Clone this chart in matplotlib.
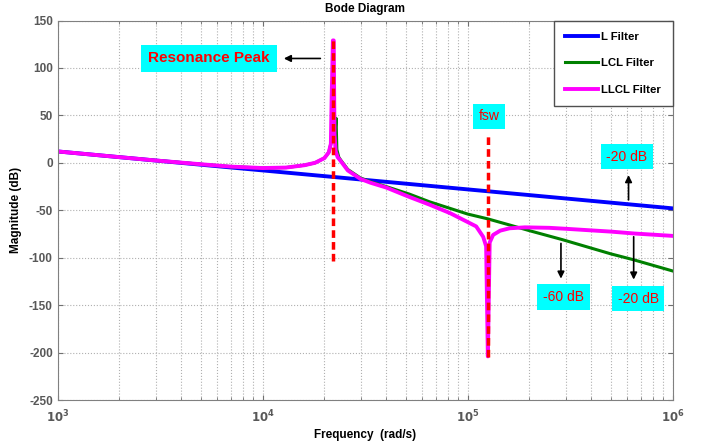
import matplotlib
matplotlib.use("Agg")
import matplotlib.pyplot as plt
from matplotlib.ticker import LogLocator, NullFormatter, FixedLocator

plt.rcParams['font.family'] = ['Liberation Sans', 'DejaVu Sans']
plt.rcParams['axes.unicode_minus'] = False

# frequency (rad/s) and magnitude (dB)
l_w = [1e3, 1e4, 1e5, 1e6]
l_mag = [12, -8, -28, -48]

lcl_w = [1e3, 2e3, 3e3, 5e3, 7e3, 1e4, 1.3e4, 1.6e4, 1.8e4, 2e4, 2.1e4, 2.15e4,
         2.2e4, 2.26e4, 2.28e4, 2.3e4, 2.35e4, 2.4e4, 2.6e4, 3e4, 3.36e4, 4e4,
         5.2e4, 6.5e4, 8.2e4, 1e5, 1.25e5, 1.6e5, 2e5, 2.9e5, 5e5, 6.4e5, 1e6]
lcl_mag = [12, 6, 2.5, -1.5, -4, -5.5, -5, -2.5, 0, 5, 11, 20,
           30, 35, 47, 14, 6, 3, -7, -16, -20, -25,
           -33, -41, -48, -54, -59, -65.5, -71.5, -81, -96, -102, -114]

llcl_w = [1e3, 2e3, 3e3, 5e3, 7e3, 1e4, 1.3e4, 1.6e4, 1.8e4, 2e4, 2.1e4, 2.15e4,
          2.17e4, 2.2e4, 2.22e4, 2.24e4, 2.27e4, 2.32e4, 2.4e4, 2.6e4, 3e4, 3.36e4,
          4e4, 5.2e4, 6.5e4, 8.2e4, 9.5e4, 1.1e5, 1.19e5, 1.23e5, 1.254e5, 1.28e5,
          1.33e5, 1.44e5, 1.6e5, 1.9e5, 2.5e5, 3e5, 5e5, 6.5e5, 1e6]
llcl_mag = [12, 6, 2.5, -1.5, -4, -5.5, -5, -2.5, 0, 5, 11, 20,
            70, 129, 129, 30, 12, 6, 2, -8, -17, -21,
            -26, -36, -44, -53, -60, -67, -78, -88, -204, -84,
            -76, -71.5, -69, -68, -68.5, -69.5, -72.5, -74.5, -77]

res_w = 2.213e4
res_span = [-103, 133]
fsw_w = 1.254e5
fsw_span = [-205, 29]

fig = plt.figure(figsize=(7.07, 4.48), dpi=100)
ax = fig.add_axes([0.0816, 0.1071, 0.8699, 0.8471])

ax.semilogx(l_w, l_mag, color='#0000ff', lw=2.8, label='L Filter')
ax.semilogx(lcl_w, lcl_mag, color='#008000', lw=2.2, label='LCL Filter')
ax.semilogx(llcl_w, llcl_mag, color='#ff00ff', lw=2.8, label='LLCL Filter')
ax.plot([res_w, res_w], res_span, color='#ff0000', lw=2.5, ls=(0, (2.2, 1.2)))
ax.plot([fsw_w, fsw_w], fsw_span, color='#ff0000', lw=2.5, ls=(0, (2.2, 1.2)))

ax.set_xlim(1e3, 1e6)
ax.set_ylim(-250, 150)
ax.yaxis.set_major_locator(FixedLocator(range(-250, 151, 50)))
ax.xaxis.set_minor_locator(LogLocator(base=10, subs=range(2, 10)))
ax.xaxis.set_minor_formatter(NullFormatter())
ax.set_xticks([1e3, 1e4, 1e5, 1e6])
ax.set_xticklabels([r'$\mathbf{10^{3}}$', r'$\mathbf{10^{4}}$', r'$\mathbf{10^{5}}$', r'$\mathbf{10^{6}}$'])
ax.grid(True, which='both', color='#b0b0b0', ls=':', lw=0.8)
ax.tick_params(which='both', direction='in', top=True, right=True, colors='#707070',
               labelcolor='#585858', labelsize=8.5)
ax.tick_params(axis='x', pad=6)
for lab in ax.get_yticklabels():
    lab.set_fontweight('bold')
for s in ax.spines.values():
    s.set_color('#808080')

ax.set_title('Bode Diagram', fontsize=8.5, fontweight='bold', pad=6)
ax.set_xlabel('Frequency  (rad/s)', fontsize=8.5, fontweight='bold', labelpad=3)
ax.set_ylabel('Magnitude (dB)', fontsize=8.5, fontweight='bold')
ax.yaxis.set_label_coords(-0.058, 0.5)

leg = ax.legend(loc='upper right', fancybox=False, borderaxespad=0, handlelength=2.9,
                labelspacing=1.45, borderpad=1.0, handletextpad=0.3,
                prop={'weight': 'bold', 'size': 8.2}, edgecolor='#505050', framealpha=1)
leg.get_frame().set_linewidth(1.0)

box = dict(boxstyle='square,pad=0.4', fc='#00ffff', ec='none')
arrow = dict(arrowstyle='-|>', color='black', lw=1.2, mutation_scale=10)

ax.text(5.47e3, 110, 'Resonance Peak', color='#ff0000', fontsize=11, fontweight='bold',
        ha='center', va='center', bbox=dict(boxstyle='square,pad=0.45', fc='#00ffff', ec='none'))
ax.annotate('', xy=(1.229e4, 110), xytext=(1.972e4, 110), arrowprops=arrow)

ax.text(1.274e5, 49, 'fsw', color='#ff0000', fontsize=10, ha='center', va='center', bbox=box)

ax.text(5.965e5, 6.4, '-20 dB', color='#ff0000', fontsize=10, ha='center', va='center', bbox=box)
ax.annotate('', xy=(6.09e5, -10), xytext=(6.09e5, -42), arrowprops=arrow)

ax.text(2.934e5, -141.4, '-60 dB', color='#ff0000', fontsize=10, ha='center', va='center', bbox=box)
ax.annotate('', xy=(2.85e5, -125), xytext=(2.85e5, -82), arrowprops=arrow)

ax.text(6.78e5, -143.3, '-20 dB', color='#ff0000', fontsize=10, ha='center', va='center', bbox=box)
ax.annotate('', xy=(6.45e5, -126), xytext=(6.45e5, -75), arrowprops=arrow)

fig.savefig('out.png', dpi=100)
